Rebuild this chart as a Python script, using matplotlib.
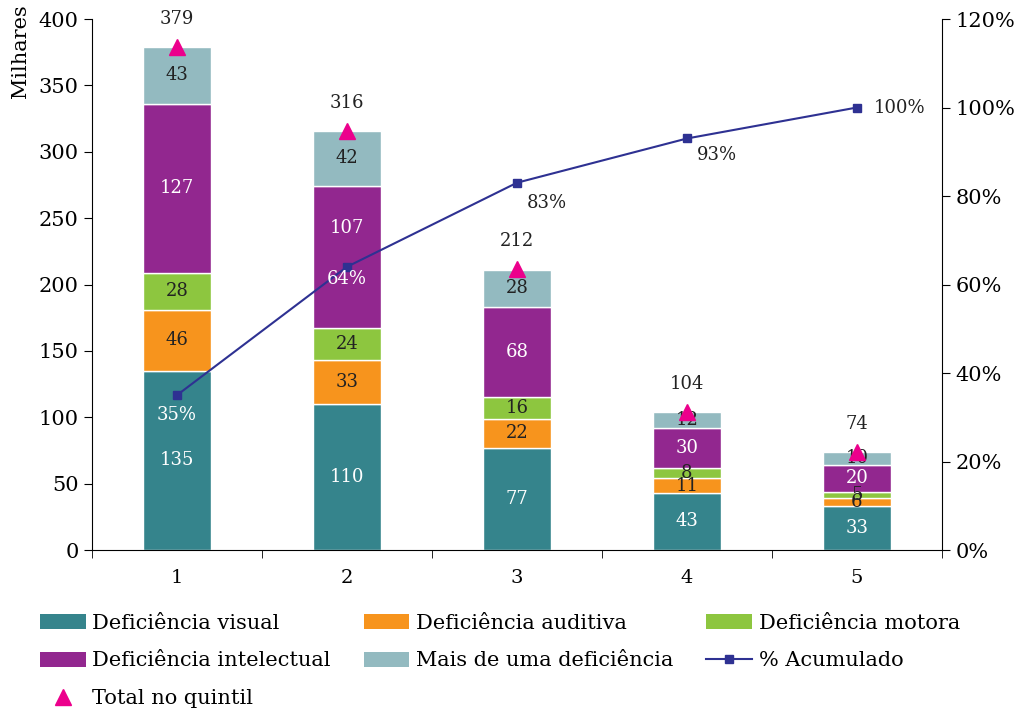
import numpy as np
import matplotlib.pyplot as plt
from matplotlib.lines import Line2D
from matplotlib.patches import Patch

plt.rcParams['font.family'] = ['DejaVu Serif']

quintis = ['1', '2', '3', '4', '5']
visual = [135, 110, 77, 43, 33]
auditiva = [46, 33, 22, 11, 6]
motora = [28, 24, 16, 8, 5]
intelectual = [127, 107, 68, 30, 20]
mais_uma = [43, 42, 28, 12, 10]
totais = [379, 316, 212, 104, 74]
acumulado = [35, 64, 83, 93, 100]

series = [
    ('Deficiência visual', visual, '#35848C', 'white'),
    ('Deficiência auditiva', auditiva, '#F7941D', '#222222'),
    ('Deficiência motora', motora, '#8DC63F', '#222222'),
    ('Deficiência intelectual', intelectual, '#92278F', 'white'),
    ('Mais de uma deficiência', mais_uma, '#93BAC0', '#222222'),
]

fig = plt.figure(figsize=(10.25, 7.13), dpi=100)
ax = fig.add_axes([92 / 1025, 1 - 550 / 713, 850 / 1025, 531 / 713])
x = np.arange(1, 6)

bottom = np.zeros(5)
for name, vals, color, tcol in series:
    vals = np.array(vals)
    ax.bar(x, vals, 0.4, bottom=bottom, color=color, edgecolor='white', linewidth=1, zorder=2)
    for xi, b, v in zip(x, bottom, vals):
        y = b + v / 2
        # move the 107 label up so it clears the 64% label
        if name == 'Deficiência intelectual' and xi == 2:
            y += 22
        ax.text(xi, y, str(v), ha='center', va='center', color=tcol, fontsize=13, zorder=3)
    bottom += vals

ax.plot(x, totais, linestyle='none', marker='^', color='#EC008C', markersize=12, zorder=5)
for xi, t in zip(x, totais):
    ax.text(xi, t + 14, str(t), ha='center', va='bottom', fontsize=13, color='#222222')

ax.set_xlim(0.5, 5.5)
ax.set_ylim(0, 400)
ax.set_yticks(range(0, 401, 50))
ax.set_xticks(x)
ax.set_xticklabels(quintis)
ax.set_xticks(np.arange(0.5, 5.6, 1), minor=True)
ax.tick_params(axis='x', which='major', length=0, labelsize=14, pad=14)
ax.tick_params(axis='x', which='minor', length=6, direction='out')
ax.tick_params(axis='y', labelsize=15, length=6, direction='out')
ax.spines['top'].set_visible(False)
ax.spines['right'].set_visible(False)
ax.set_ylabel('Milhares', fontsize=15)
ax.yaxis.set_label_coords(-0.073, 0.94)

ax2 = ax.twinx()
ax2.set_position(ax.get_position())
ax2.plot(x, acumulado, color='#2E3192', marker='s', markersize=6, linewidth=1.5, zorder=4)
ax2.set_ylim(0, 120)
ax2.set_yticks(range(0, 121, 20))
ax2.set_yticklabels([f'{v}%' for v in range(0, 121, 20)])
ax2.tick_params(axis='y', labelsize=15, length=6, direction='out')
ax2.spines['top'].set_visible(False)
ax2.spines['left'].set_visible(False)
ax2.spines['bottom'].set_visible(False)

offsets = [(0, -2.5, 'center', 'top', 'white'), (0.0, -0.8, 'center', 'top', 'white'),
           (0.06, -2.5, 'left', 'top', '#222222'), (0.06, -1.8, 'left', 'top', '#222222'),
           (0.1, 0, 'left', 'center', '#222222')]
for xi, a, (dx, dy, ha, va, col) in zip(x, acumulado, offsets):
    ax2.text(xi + dx, a + dy, f'{a}%', ha=ha, va=va, fontsize=13, color=col, zorder=6)

patches = [Patch(facecolor=c, label=n) for n, _, c, _ in series]
linha = Line2D([], [], color='#2E3192', marker='s', markersize=6, label='% Acumulado')
tri = Line2D([], [], linestyle='none', color='#EC008C', marker='^', markersize=12,
             label='Total no quintil')
# column-major fill -> rows: visual/auditiva/motora, intelectual/mais/acumulado, total
handles = [patches[0], patches[3], tri, patches[1], patches[4], patches[2], linha]
fig.legend(handles=handles, loc='upper left', bbox_to_anchor=(21 / 1025, 1 - 595 / 713),
           ncol=3, frameon=False, fontsize=15, handlelength=2.2, handleheight=0.7,
           handletextpad=0.3, columnspacing=1.6, labelspacing=0.9)

fig.savefig('out.png', dpi=100)
